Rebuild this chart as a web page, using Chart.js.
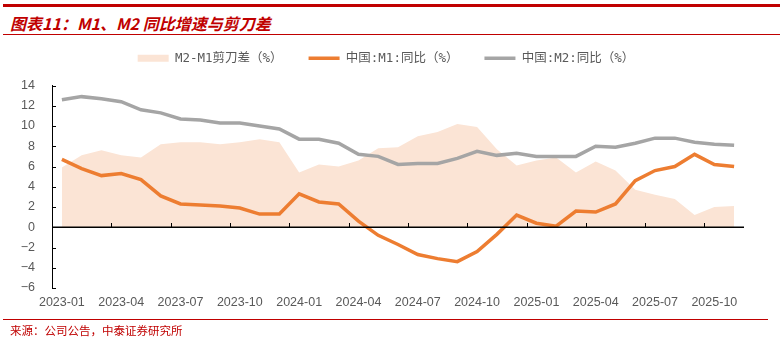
<!DOCTYPE html>
<html>
<head>
<meta charset="utf-8">
<script src="https://cdn.jsdelivr.net/npm/chart.js@4/dist/chart.umd.min.js"></script>
<style>
    html, body { margin: 0; padding: 0; background: #fff; }
    #wrap { position: relative; width: 780px; height: 342px; overflow: hidden; }
    #chart { position: absolute; left: 0; top: 0; }
    .rule { position: absolute; background: #c00000; }
    #title {
        position: absolute; left: 10px; top: 14px; margin: 0;
        font: italic bold 16px "Noto Sans CJK SC", sans-serif; line-height: 18px;
        color: #c00000; white-space: nowrap;
    }
    #source {
        position: absolute; left: 10px; top: 323px;
        font: 11.5px "Noto Sans CJK SC", sans-serif; line-height: 14px;
        color: #c00000; white-space: nowrap;
    }
</style>
</head>
<body>
<div id="wrap">
    <div class="rule" style="left:3px;top:4px;width:777px;height:3px"></div>
    <div id="title">图表11：M1、M2 同比增速与剪刀差</div>
    <div class="rule" style="left:3px;top:34px;width:777px;height:1px"></div>
    <canvas id="chart" width="780" height="342"></canvas>
    <div class="rule" style="left:3px;top:319px;width:765px;height:1px"></div>
    <div id="source">来源：公司公告，中泰证券研究所</div>
</div>
<script>
/* globals Chart:false */
var months = [
    "2023-01", "2023-02", "2023-03", "2023-04", "2023-05", "2023-06",
    "2023-07", "2023-08", "2023-09", "2023-10", "2023-11", "2023-12",
    "2024-01", "2024-02", "2024-03", "2024-04", "2024-05", "2024-06",
    "2024-07", "2024-08", "2024-09", "2024-10", "2024-11", "2024-12",
    "2025-01", "2025-02", "2025-03", "2025-04", "2025-05", "2025-06",
    "2025-07", "2025-08", "2025-09", "2025-10", "2025-11"
];

var m1Yoy = [
    6.7, 5.8, 5.1, 5.3, 4.7, 3.1, 2.3, 2.2, 2.1, 1.9, 1.3, 1.3,
    3.3, 2.5, 2.3, 0.6, -0.8, -1.7, -2.7, -3.1, -3.4, -2.4, -0.7, 1.2,
    0.4, 0.1, 1.6, 1.5, 2.3, 4.6, 5.6, 6.0, 7.2, 6.2, 6.0
];

var m2Yoy = [
    12.6, 12.9, 12.7, 12.4, 11.6, 11.3, 10.7, 10.6, 10.3, 10.3, 10.0, 9.7,
    8.7, 8.7, 8.3, 7.2, 7.0, 6.2, 6.3, 6.3, 6.8, 7.5, 7.1, 7.3,
    7.0, 7.0, 7.0, 8.0, 7.9, 8.3, 8.8, 8.8, 8.4, 8.2, 8.1
];

var scissorsGap = [
    5.9, 7.1, 7.6, 7.1, 6.9, 8.2, 8.4, 8.4, 8.2, 8.4, 8.7, 8.4,
    5.4, 6.2, 6.0, 6.6, 7.8, 7.9, 9.0, 9.4, 10.2, 9.9, 7.7, 6.1,
    6.6, 6.9, 5.4, 6.5, 5.6, 3.7, 3.2, 2.8, 1.2, 2.0, 2.1
];

var yTicks = [-6, -4, -2, 0, 2, 4, 6, 8, 10, 12, 14];

var seriesNames = ["M2-M1剪刀差（%）", "中国:M1:同比（%）", "中国:M2:同比（%）"];

const AREA = "#fbe4d5",
    ORANGE = "#ed7d31",
    GREY = "#a5a5a5",
    TEXT = "#595959";

// small black tick marks on the zero line and on the y axis, pointing inward
var axisMarks = {
    id: "axisMarks",
    afterDatasetsDraw(chart) {
        var ctx = chart.ctx,
            area = chart.chartArea,
            x = chart.scales.x,
            y = chart.scales.y,
            y0 = Math.round(y.getPixelForValue(0));

        ctx.save();
        ctx.strokeStyle = "#000";
        ctx.lineWidth = 1;
        ctx.beginPath();
        for (var i = 3; i < months.length; i += 3) {
            var px = Math.round((x.getPixelForValue(i - 1) + x.getPixelForValue(i)) / 2) + 0.5;
            ctx.moveTo(px, y0);
            ctx.lineTo(px, y0 - 4);
        }
        yTicks.forEach(v => {
            var py = Math.round(y.getPixelForValue(v)) + 0.5;
            ctx.moveTo(area.left, py);
            ctx.lineTo(area.left + 4, py);
        });
        ctx.stroke();

        ctx.lineWidth = 1.5;
        ctx.beginPath();
        ctx.moveTo(area.left, y0 + 0.25);
        ctx.lineTo(area.right, y0 + 0.25);
        ctx.stroke();
        ctx.restore();
    }
};

// more room under the legend row, and nudge the row a little to the right
var legendGap = {
    id: "legendGap",
    afterInit(chart) {
        var legend = chart.legend,
            fit = legend.fit;

        legend.fit = function () {
            fit.call(this);
            this.height += 11;
        };
    },
    afterLayout(chart) {
        chart.legend.left += 18;
    }
};

function legendItems() {
    return [
        { text: seriesNames[0], fillStyle: AREA, strokeStyle: AREA, lineWidth: 0, pointStyle: "rect", datasetIndex: 0, fontColor: TEXT },
        { text: seriesNames[1], fillStyle: ORANGE, strokeStyle: ORANGE, lineWidth: 3.5, pointStyle: "line", datasetIndex: 1, fontColor: TEXT },
        { text: seriesNames[2], fillStyle: GREY, strokeStyle: GREY, lineWidth: 3.5, pointStyle: "line", datasetIndex: 2, fontColor: TEXT }
    ];
}

new Chart(document.getElementById("chart"), {
    type: "line",
    data: {
        labels: months,
        datasets: [{
            label: seriesNames[0],
            data: scissorsGap,
            fill: "origin",
            backgroundColor: AREA,
            borderWidth: 0,
            pointRadius: 0,
            order: 3
        }, {
            label: seriesNames[1],
            data: m1Yoy,
            borderColor: ORANGE,
            borderWidth: 3.5,
            pointRadius: 0,
            fill: false,
            order: 1
        }, {
            label: seriesNames[2],
            data: m2Yoy,
            borderColor: GREY,
            borderWidth: 3.5,
            pointRadius: 0,
            fill: false,
            order: 2
        }]
    },
    options: {
        responsive: false,
        animation: false,
        layout: { padding: { left: 10, right: 36, top: 26, bottom: 0 } },
        plugins: {
            tooltip: { enabled: false },
            legend: {
                position: "top",
                labels: {
                    usePointStyle: true,
                    pointStyleWidth: 31,
                    boxHeight: 7,
                    padding: 26,
                    color: TEXT,
                    font: { family: "'DejaVu Sans Mono', 'Noto Sans CJK SC', monospace", size: 12.5 },
                    generateLabels: legendItems
                }
            }
        },
        scales: {
            x: {
                offset: true,
                grid: { display: false, drawTicks: false },
                border: { display: false },
                afterFit(scale) { scale.height = 54; },
                ticks: {
                    autoSkip: false,
                    maxRotation: 0,
                    padding: 7,
                    color: TEXT,
                    font: { family: "'Liberation Sans', Arial, sans-serif", size: 12.5 },
                    callback: (val, idx) => idx % 3 === 0 ? months[idx] : null
                }
            },
            y: {
                min: -6,
                max: 14,
                afterFit(scale) { scale.width = 42; },
                afterBuildTicks(scale) { scale.ticks = yTicks.map(v => ({ value: v })); },
                grid: { display: false, drawTicks: false },
                border: { display: true, color: "#000", width: 1 },
                ticks: {
                    padding: 17,
                    color: TEXT,
                    font: { family: "'Liberation Sans', Arial, sans-serif", size: 12.5 },
                    callback: v => v < 0 ? "\u2212" + Math.abs(v) : String(v)
                }
            }
        }
    },
    plugins: [axisMarks, legendGap]
});
</script>
</body>
</html>
